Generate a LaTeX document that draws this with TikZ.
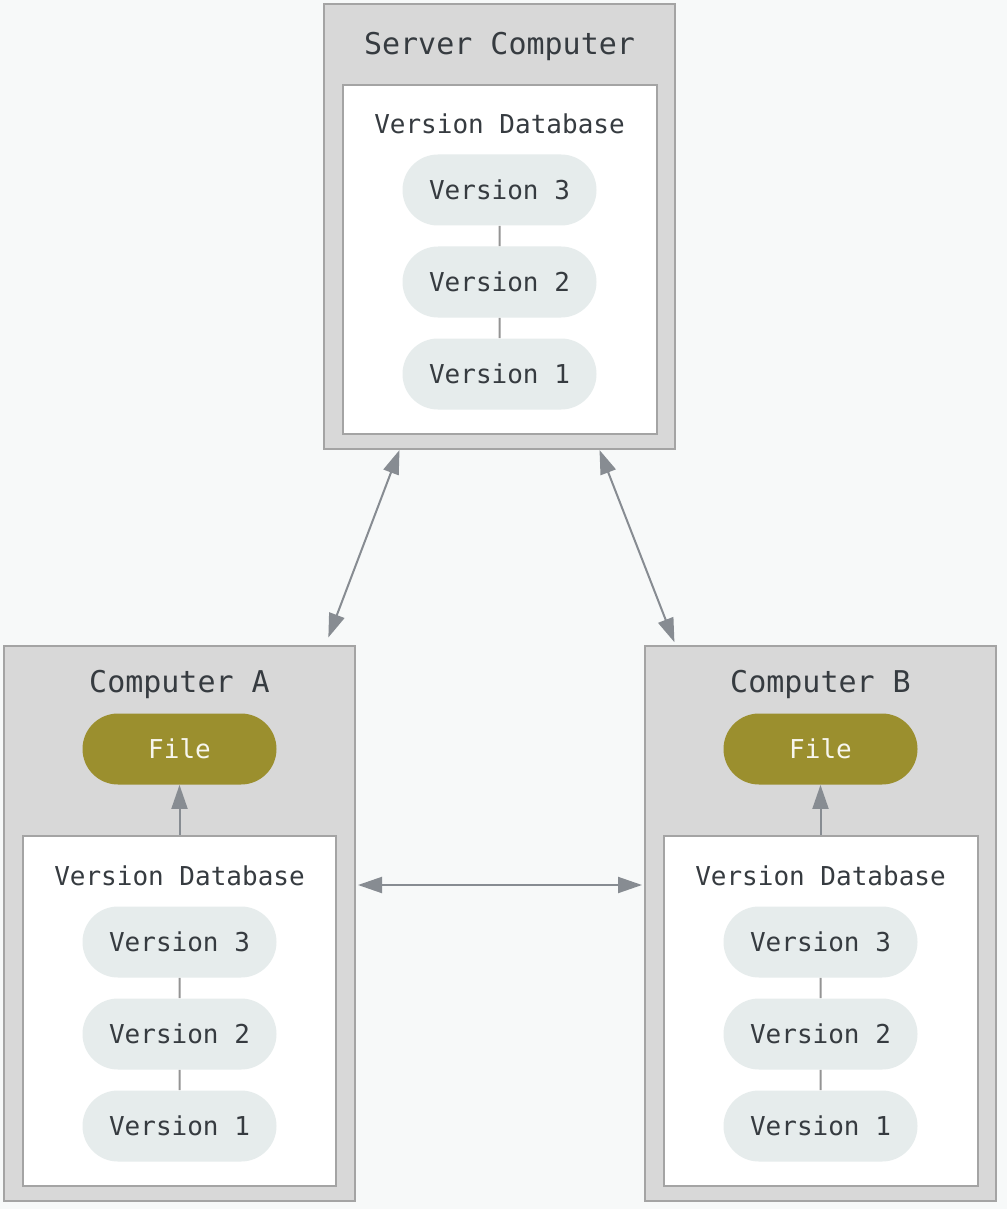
\documentclass[tikz,border=0pt]{standalone}
\usepackage{fontspec}
\setmonofont{DejaVu Sans Mono}
\usetikzlibrary{arrows.meta,shapes.misc}

\definecolor{bgcol}{HTML}{F7F9F9}
\definecolor{boxgray}{HTML}{D8D8D8}
\definecolor{edgegray}{HTML}{A4A4A4}
\definecolor{pillcol}{HTML}{E6ECEC}
\definecolor{textcol}{HTML}{363B40}
\definecolor{filecol}{HTML}{9B8F2E}
\definecolor{arrowcol}{HTML}{878C92}

\tikzset{
    machine/.style={draw=edgegray, fill=boxgray, line width=1pt, inner sep=0pt},
    dbbox/.style={draw=edgegray, fill=white, line width=1pt, inner sep=0pt},
    title/.style={text=textcol, font=\ttfamily\fontsize{15}{18}\selectfont},
    dblabel/.style={text=textcol, font=\ttfamily\fontsize{13}{16}\selectfont},
    version/.style={rounded rectangle, fill=pillcol, inner sep=0pt,
        minimum width=97pt, minimum height=35.5pt,
        text=textcol, font=\ttfamily\fontsize{13}{16}\selectfont},
    filepill/.style={version, fill=filecol, text=white!92!filecol},
    link/.style={draw=edgegray!90!black, line width=1pt},
    sync/.style={draw=arrowcol, line width=1pt,
        {Triangle[length=12pt,width=8pt]}-{Triangle[length=12pt,width=8pt]}},
    fetch/.style={draw=arrowcol, line width=1pt, -{Triangle[length=12pt,width=8pt]}}
}

\begin{document}
\begin{tikzpicture}[x=0.5pt, y=-0.5pt]
    % Fonas
    \fill[bgcol] (0,0) rectangle (1007,1209);
    \useasboundingbox (0,0) rectangle (1007,1209);

    % Serveris
    \node[machine, minimum width=175.5pt, minimum height=222.5pt] (server) at (499.5,226.5) {};
    \node[title] (servertitle) at (499.5,46) {Server Computer};
    \node[dbbox, minimum width=157pt, minimum height=174.5pt] (sdb) at (499.5,259.5) {};
    \node[dblabel] (sdblabel) at (499.5,124) {Version Database};

    % Kompiuteriai A ir B
    \node[machine, minimum width=175.5pt, minimum height=277.5pt] (compa) at (179.5,923.5) {};
    \node[machine, minimum width=175.5pt, minimum height=277.5pt] (compb) at (820.5,923.5) {};
    \node[title] (compatitle) at (179.5,684) {Computer A};
    \node[title] (compbtitle) at (820.5,684) {Computer B};
    \node[dbbox, minimum width=156.5pt, minimum height=175pt] (adb) at (179.5,1011) {};
    \node[dbbox, minimum width=157pt, minimum height=175pt] (bdb) at (820.5,1011) {};
    \node[dblabel] (adblabel) at (179.5,876) {Version Database};
    \node[dblabel] (bdblabel) at (820.5,876) {Version Database};
    \node[filepill] (afile) at (179.5,749) {File};
    \node[filepill] (bfile) at (820.5,749) {File};

    % Versijos
    \foreach \pre/\x/\y in {s/499.5/190, a/179.5/942, b/820.5/942} {
        \node[version] (\pre v3) at (\x,\y) {Version 3};
        \node[version] (\pre v2) at (\x,\y+92) {Version 2};
        \node[version] (\pre v1) at (\x,\y+184) {Version 1};
        \draw[link] (\pre v3) -- (\pre v2);
        \draw[link] (\pre v2) -- (\pre v1);
    }

    % Rodyklės
    \coordinate (synclevel) at (500,885);
    \draw[fetch] (adb.north) -- (afile.south);
    \draw[fetch] (bdb.north) -- (bfile.south);
    \draw[sync, shorten >=4pt] ([xshift=-50pt]server.south) -- ([xshift=73pt]compa.north);
    \draw[sync, shorten >=1.5pt] ([xshift=50pt]server.south) -- ([xshift=-72.5pt]compb.north);
    \draw[sync, shorten <=1pt, shorten >=1pt] (compa.east |- synclevel) -- (compb.west |- synclevel);
\end{tikzpicture}
\end{document}
